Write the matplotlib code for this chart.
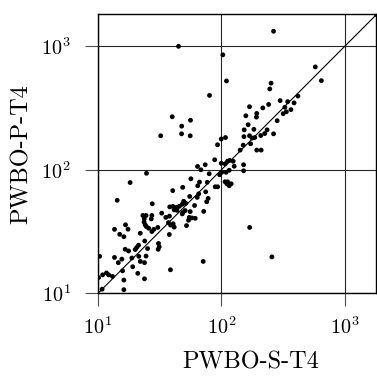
import matplotlib
matplotlib.use("Agg")
import matplotlib.pyplot as plt
from matplotlib.ticker import LogLocator, NullLocator

plt.rcParams['font.family'] = 'cmr10'
plt.rcParams['mathtext.fontset'] = 'cm'
plt.rcParams['axes.unicode_minus'] = False
plt.rcParams['axes.formatter.use_mathtext'] = True

x_label = "PWBO-S-T4"
y_label = "PWBO-P-T4"
axis_limits = (10, 1800)

# PWBO-S-T4 runtimes (x) and PWBO-P-T4 runtimes (y)
s_times = [264, 44.9, 102.6, 109.7, 252, 246, 575, 644, 80, 39.9,
           56.1, 47.6, 47.5, 55.8, 32.2, 168.6, 157.5, 193, 192, 216,
           241, 298.5, 343.5, 416, 387, 326, 365, 335, 316, 282.5,
           164.4, 152.7, 183, 234, 264, 152, 168.6, 177, 186, 208,
           224, 172, 150, 141.6, 193, 209.5, 99.5, 107.7, 92.9, 1800,
           99.5, 107, 112, 116.5, 124.4, 126.7, 100.4, 109, 115.5, 96.7,
           151, 151, 88.1, 73.8, 64, 68.1, 79.5, 107, 112, 119.8,
           115.5, 110.6, 88.9, 93.1, 76.6, 66.4, 64.2, 56.5, 48.5, 40.3,
           24.7, 18.2, 14.3, 74.5, 65.4, 63.6, 78, 75.9, 71.8, 55.3,
           49.4, 51.3, 48.1, 45.5, 43.4, 40.4, 38.1, 41.4, 43.6, 60.5,
           55.8, 48.7, 54.8, 57.6, 61.3, 54.1, 48.1, 50.8, 27.5, 32.8,
           35.4, 37.9, 37.2, 52.1, 41.4, 38.7, 40.6, 37.8, 30.5, 28.3,
           27.3, 23.1, 24.5, 27.3, 27, 23.7, 23.6, 24.1, 24.6, 25.7,
           16.7, 17.5, 13.6, 15, 16.2, 22, 30.9, 31.3, 30.7, 23.9,
           21.3, 20.6, 20, 16.6, 17.7, 25.2, 18.8, 19.1, 21.4, 22,
           24.5, 23.8, 13.6, 14.6, 15.6, 10.3, 38.6, 71.1, 169, 256,
           15.8, 21, 23.8, 16.2, 16.2, 10.1, 10.9, 11.7, 12.2, 13.1,
           10.8]
p_times = [1318, 995, 849, 522, 501, 450, 678, 525, 399, 268,
           251, 225, 195, 188, 188, 323, 273, 285, 266, 316,
           337, 362, 355, 394, 347, 320, 306, 294, 284, 249,
           231, 210, 212, 210, 195, 185, 188, 180, 182, 189,
           196, 162, 158, 144, 144, 144, 177, 182, 159, 1800,
           112.7, 111.6, 117, 119, 117, 106.6, 95.2, 95.2, 98.9, 91,
           109.6, 98, 120.3, 109.6, 106.2, 99.8, 92.7, 79.8, 79.8, 76.9,
           74.1, 76.9, 72.7, 72.7, 79.1, 79.4, 74.1, 84.4, 72, 67.7,
           93.5, 78.7, 56.5, 66.2, 63.8, 59.7, 58.6, 55, 46, 60.7,
           55.5, 53.4, 52.5, 50.5, 49.6, 50.4, 50, 47.3, 46.9, 51.3,
           45.8, 45, 41.1, 40.7, 40.4, 39, 43.9, 46.7, 53, 44.5,
           41.1, 42.1, 37.3, 35.3, 34.3, 35.6, 36.5, 29.9, 34.1, 32.9,
           31.6, 42.6, 42.6, 42.6, 40, 40, 37.6, 35.8, 34.7, 33.6,
           35.8, 33, 32.9, 30, 28.7, 30.6, 25.3, 23.8, 22.7, 26.5,
           24.5, 23.5, 22.6, 22.7, 22, 23, 19.3, 16.4, 19.9, 18.1,
           20, 17.7, 19.5, 17.7, 18.9, 19.9, 15.5, 18.1, 34.1, 19.7,
           15.2, 14.5, 13.1, 12.8, 10.7, 13.4, 14.1, 14.6, 14.1, 13.7,
           10.8]

fig = plt.figure(figsize=(3.77, 3.78), dpi=100)
ax = fig.add_axes([98 / 377, 1 - 293.3 / 378, (376.5 - 98) / 377, (293.3 - 14.5) / 378])
ax.set_xscale('log')
ax.set_yscale('log')
ax.set_xlim(*axis_limits)
ax.set_ylim(*axis_limits)

ax.plot(axis_limits, axis_limits, color='k', lw=0.8, zorder=2)
ax.scatter(s_times, p_times, s=12, color='k', edgecolors='none', zorder=3)

ax.xaxis.set_major_locator(LogLocator(base=10, numticks=10))
ax.yaxis.set_major_locator(LogLocator(base=10, numticks=10))
ax.xaxis.set_minor_locator(NullLocator())
ax.yaxis.set_minor_locator(NullLocator())
ax.grid(True, which='major', color='0.15', lw=0.8)
ax.set_axisbelow(True)
ax.tick_params(which='major', direction='out', length=9.5, width=0.8,
               color='0.3', labelsize=14.5)
ax.tick_params(axis='x', pad=7)
ax.tick_params(axis='y', pad=10)
for sp in ax.spines.values():
    sp.set_linewidth(1.0)

ax.set_xlabel(x_label, fontsize=17.5)
ax.set_ylabel(y_label, fontsize=17.5)
ax.xaxis.set_label_coords(0.55, -0.21)
ax.yaxis.set_label_coords(-0.235, 0.5)

fig.savefig('out.png', dpi=100)
